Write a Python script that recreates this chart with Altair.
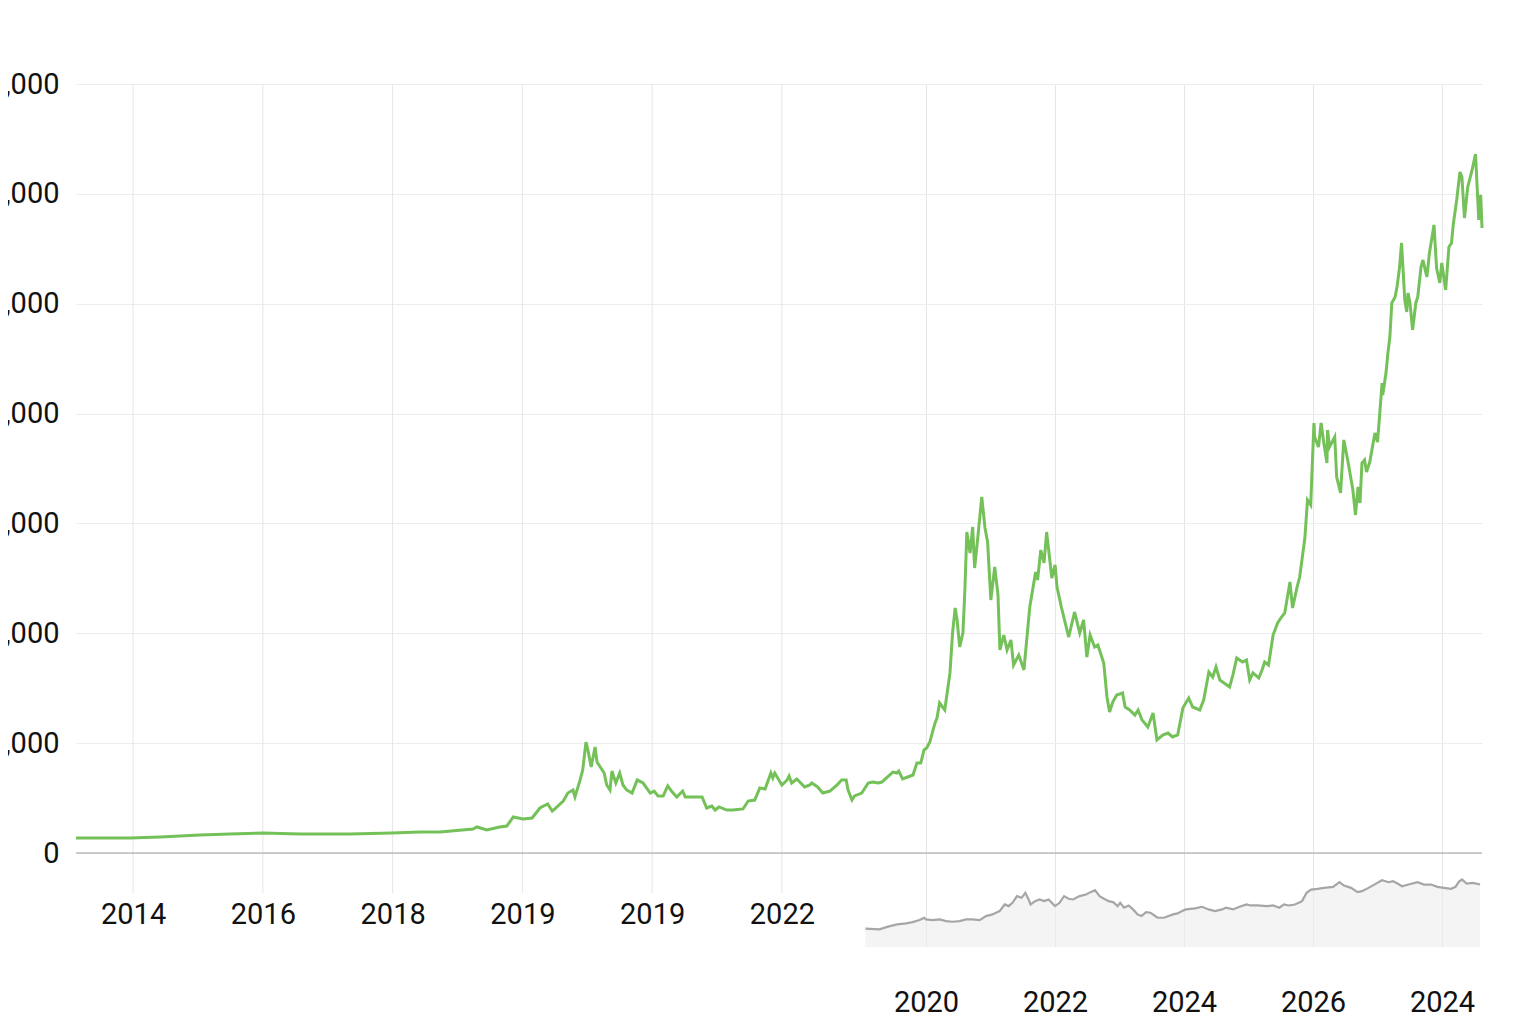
import altair as alt
import pandas as pd

# ---------------- data ----------------
MAIN_T = [2013.12, 2013.49, 2013.95, 2014.42, 2015.03, 2015.49, 2016.00, 2016.57, 2017.34, 2017.99,
          2018.42, 2018.73, 2019.24, 2019.30, 2019.45, 2019.65, 2019.76, 2019.86, 2020.01, 2020.15,
          2020.27, 2020.39, 2020.46, 2020.50, 2020.63, 2020.70, 2020.78, 2020.81, 2020.89, 2020.93,
          2020.98, 2021.01, 2021.06, 2021.12, 2021.15, 2021.20, 2021.26, 2021.30, 2021.35, 2021.38,
          2021.44, 2021.50, 2021.55, 2021.61, 2021.69, 2021.77, 2021.86, 2021.97, 2022.03, 2022.09,
          2022.17, 2022.24, 2022.31, 2022.38, 2022.47, 2022.51, 2022.63, 2022.77, 2022.84, 2022.92,
          2022.97, 2023.03, 2023.15, 2023.24, 2023.40, 2023.48, 2023.58, 2023.66, 2023.74, 2023.83,
          2023.86, 2023.89, 2024.00, 2024.08, 2024.11, 2024.15, 2024.23, 2024.35, 2024.43, 2024.46,
          2024.55, 2024.63, 2024.74, 2024.85, 2024.92, 2024.99, 2025.02, 2025.08, 2025.12, 2025.23,
          2025.33, 2025.40, 2025.48, 2025.54, 2025.71, 2025.77, 2025.80, 2025.86, 2025.94, 2026.02,
          2026.08, 2026.14, 2026.19, 2026.23, 2026.28, 2026.33, 2026.36, 2026.39, 2026.43, 2026.51,
          2026.59, 2026.63, 2026.67, 2026.70, 2026.74, 2026.79, 2026.82, 2026.85, 2026.90, 2026.94,
          2026.97, 2027.02, 2027.08, 2027.13, 2027.17, 2027.22, 2027.28, 2027.33, 2027.36, 2027.42,
          2027.47, 2027.53, 2027.57, 2027.65, 2027.73, 2027.82, 2027.91, 2027.94, 2027.99, 2028.04,
          2028.08, 2028.16, 2028.21, 2028.24, 2028.31, 2028.42, 2028.51, 2028.59, 2028.65, 2028.70,
          2028.75, 2028.82, 2028.87, 2028.96, 2029.01, 2029.05, 2029.10, 2029.16, 2029.25, 2029.29,
          2029.36, 2029.44, 2029.49, 2029.55, 2029.64, 2029.72, 2029.78, 2029.87, 2029.95, 2030.02,
          2030.10, 2030.18, 2030.27, 2030.33, 2030.44, 2030.50, 2030.58, 2030.64, 2030.69, 2030.75,
          2030.90, 2030.95, 2031.01, 2031.10, 2031.16, 2031.21, 2031.26, 2031.35, 2031.40, 2031.44,
          2031.50, 2031.57, 2031.64, 2031.70, 2031.75, 2031.83, 2031.87, 2031.94, 2031.98, 2032.06,
          2032.10, 2032.15, 2032.20, 2032.21, 2032.27, 2032.31, 2032.35, 2032.40, 2032.41, 2032.44,
          2032.52, 2032.55, 2032.61, 2032.66, 2032.72, 2032.80, 2032.84, 2032.88, 2032.91, 2032.94,
          2032.98, 2033.01, 2033.06, 2033.14, 2033.18, 2033.25, 2033.26, 2033.31, 2033.34, 2033.37,
          2033.40, 2033.45, 2033.48, 2033.52, 2033.55, 2033.60, 2033.63, 2033.65, 2033.68, 2033.72,
          2033.77, 2033.80, 2033.85, 2033.88, 2033.94, 2033.98, 2034.05, 2034.09, 2034.14, 2034.17,
          2034.23, 2034.28, 2034.32, 2034.35, 2034.40, 2034.45, 2034.48, 2034.52, 2034.57, 2034.63,
          2034.69, 2034.74, 2034.77, 2034.79]
MAIN_V = [1370, 1370, 1370, 1460, 1640, 1730, 1820, 1730, 1730, 1820,
          1910, 1910, 2180, 2370, 2090, 2370, 2460, 3280, 3100, 3190,
          4100, 4460, 3820, 4010, 4730, 5460, 5730, 5100, 6650, 7560,
          10100, 9380, 7830, 9650, 8280, 7830, 7280, 6190, 5730, 7460,
          6370, 7280, 6190, 5730, 5460, 6650, 6370, 5460, 5640, 5190,
          5190, 6100, 5550, 5100, 5640, 5100, 5100, 5100, 4100, 4280,
          3910, 4190, 3910, 3910, 4010, 4730, 4820, 5920, 5830, 7280,
          6830, 7280, 6190, 6650, 7010, 6370, 6740, 6010, 6190, 6370,
          6010, 5460, 5640, 6190, 6650, 6650, 5730, 4820, 5190, 5460,
          6370, 6460, 6370, 6460, 7370, 7280, 7460, 6740, 6920, 7100,
          8190, 8190, 9380, 9560, 10100, 11200, 11830, 12290, 13650, 13020,
          16390, 20030, 22300, 21210, 18750, 20030, 23940, 29220, 27310, 29680,
          25940, 28770, 32410, 29590, 28310, 23030, 26040, 23490, 18480, 19840,
          18480, 19390, 17110, 18020, 16660, 22390, 25580, 24850, 27580, 26400,
          29220, 25030, 26220, 24210, 22300, 19660, 21940, 20030, 21210, 17840,
          19840, 18750, 18930, 17300, 14200, 12840, 13750, 14380, 14560, 13290,
          13020, 12560, 13020, 12110, 11470, 12740, 10290, 10740, 10920, 10560,
          10740, 13200, 14110, 13290, 13020, 13930, 16480, 16020, 16930, 15750,
          15110, 16200, 17750, 17390, 17570, 15750, 16390, 15930, 16660, 17390,
          17110, 19840, 20940, 21480, 21850, 24670, 22300, 24210, 25120, 28670,
          32130, 31680, 39140, 37870, 36960, 39140, 37410, 35500, 38510, 36960,
          37870, 34230, 32770, 37600, 35780, 33040, 30770, 33320, 31860, 35500,
          35780, 34680, 35590, 38230, 37410, 42780, 41690, 43690, 45520, 46970,
          50070, 50610, 51520, 53340, 55530, 50340, 49250, 50980, 50070, 47610,
          50070, 50610, 53340, 53980, 52430, 54620, 57170, 53250, 51890, 53710,
          51250, 55160, 55530, 57350, 59440, 61990, 61540, 57800, 60630, 61990,
          63630, 57620, 59900, 56890]

INSET_T = [2019.06, 2019.28, 2019.41, 2019.55, 2019.69, 2019.79, 2019.90, 2019.97, 2020.00, 2020.10,
           2020.21, 2020.31, 2020.41, 2020.52, 2020.62, 2020.72, 2020.83, 2020.93, 2021.03, 2021.14,
           2021.22, 2021.28, 2021.34, 2021.41, 2021.48, 2021.54, 2021.59, 2021.62, 2021.69, 2021.76,
           2021.83, 2021.90, 2022.00, 2022.07, 2022.14, 2022.21, 2022.28, 2022.38, 2022.48, 2022.55,
           2022.62, 2022.69, 2022.76, 2022.83, 2022.90, 2022.97, 2023.01, 2023.07, 2023.14, 2023.21,
           2023.28, 2023.34, 2023.41, 2023.48, 2023.59, 2023.69, 2023.76, 2023.83, 2023.90, 2023.97,
           2024.03, 2024.17, 2024.28, 2024.38, 2024.48, 2024.59, 2024.65, 2024.76, 2024.86, 2024.97,
           2025.03, 2025.14, 2025.28, 2025.38, 2025.48, 2025.55, 2025.62, 2025.72, 2025.83, 2025.90,
           2025.97, 2026.07, 2026.17, 2026.31, 2026.41, 2026.48, 2026.59, 2026.69, 2026.76, 2026.86,
           2026.97, 2027.07, 2027.17, 2027.24, 2027.31, 2027.38, 2027.48, 2027.62, 2027.72, 2027.83,
           2027.93, 2028.03, 2028.14, 2028.21, 2028.26, 2028.31, 2028.38, 2028.48, 2028.59]
INSET_V = [27.5, 26.5, 30.5, 34.0, 35.4, 37.4, 40.4, 43.9, 41.4, 40.4,
           41.4, 38.9, 37.9, 38.9, 41.4, 41.4, 40.4, 46.4, 48.9, 53.9,
           63.8, 61.3, 66.3, 76.3, 73.8, 81.3, 71.3, 63.8, 68.8, 71.3,
           68.8, 71.3, 61.3, 66.3, 76.3, 72.3, 71.3, 76.3, 78.8, 82.3,
           85.2, 76.3, 72.3, 68.8, 67.3, 61.3, 66.3, 58.9, 62.3, 56.4,
           48.9, 46.4, 52.4, 51.4, 43.9, 43.9, 46.4, 48.9, 50.4, 53.9,
           56.4, 57.9, 60.3, 56.4, 53.9, 56.4, 58.9, 56.4, 60.3, 63.8,
           62.3, 62.3, 61.3, 62.3, 58.9, 63.8, 62.3, 63.8, 68.8, 81.3,
           86.2, 87.2, 88.7, 90.2, 97.2, 92.2, 88.7, 82.3, 83.8, 88.7,
           94.7, 100.2, 97.2, 98.7, 95.2, 91.2, 93.7, 97.2, 93.7, 93.7,
           90.2, 88.7, 87.2, 90.2, 97.7, 101.2, 95.2, 96.2, 93.7]

Y_TICKS = [0, 10000, 20000, 30000, 40000, 50000, 60000, 70000]
MAIN_TICKS = [2014, 2016, 2018, 2020, 2022, 2024]
MAIN_TICK_LABELS = ["2014", "2016", "2018", "2019", "2019", "2022"]
INSET_TICKS = [2020, 2022, 2024, 2026, 2028]
INSET_TICK_LABELS = ["2020", "2022", "2024", "2026", "2024"]
GRID_LOW = -3641
GRID_HIGH = 70000
BASELINE = [0]

# ---------------- styling ----------------
FONT = "Roboto"
FS = 29
TEXT = "#111111"
GREEN = "#74c159"
W, H = 1406, 863

main_df = pd.DataFrame({"t": MAIN_T, "v": MAIN_V})
inset_df = pd.DataFrame({"t": INSET_T, "v": INSET_V})
vgrid_df = pd.DataFrame({"t": MAIN_TICKS, "lo": [GRID_LOW] * len(MAIN_TICKS),
                         "hi": [GRID_HIGH] * len(MAIN_TICKS)})
base_df = pd.DataFrame({"v": BASELINE})


def label_expr(ticks, labels):
    arr = "[" + ",".join("'" + s + "'" for s in labels) + "]"
    vals = "[" + ",".join(str(t) for t in ticks) + "]"
    return arr + "[indexof(" + vals + ", datum.value)]"


main_x_scale = alt.Scale(domain=[2013.12, 2034.79], nice=False, zero=False)
main_y_scale = alt.Scale(domain=[-8556, 70000], nice=False, zero=False)
inset_x_scale = alt.Scale(domain=[2006.82, 2028.62], nice=False, zero=False)
inset_y_scale = alt.Scale(domain=[0, 1294.5], nice=False, zero=False)

main_x_axis = alt.Axis(values=MAIN_TICKS, labelExpr=label_expr(MAIN_TICKS, MAIN_TICK_LABELS),
                       grid=False, domain=False, ticks=False, tickSize=0, labelPadding=-47,
                       labelFont=FONT, labelFontSize=FS, labelColor=TEXT, title=None,
                       orient="bottom", labelFlush=False, labelOverlap=False)
main_y_axis = alt.Axis(values=Y_TICKS, format=",.0f", grid=True, gridColor="#ededed", gridWidth=1,
                       domain=False, ticks=False, tickSize=0, labelPadding=17,
                       labelFont=FONT, labelFontSize=FS, labelColor=TEXT, title=None,
                       orient="left", labelFlush=False, labelOverlap=False)
inset_x_axis = alt.Axis(values=INSET_TICKS, labelExpr=label_expr(INSET_TICKS, INSET_TICK_LABELS),
                        grid=True, gridColor="#e6e6e6", gridWidth=1, domain=False, ticks=False,
                        tickSize=0, labelPadding=41, labelFont=FONT, labelFontSize=FS,
                        labelColor=TEXT, title=None, orient="bottom", labelFlush=False,
                        labelOverlap=False)

x_main = alt.X("t:Q", scale=main_x_scale, axis=main_x_axis)
y_main = alt.Y("v:Q", scale=main_y_scale, axis=main_y_axis)

vgrid = alt.Chart(vgrid_df).mark_rule(color="#e6e6e6", strokeWidth=1).encode(
    x=x_main,
    y=alt.Y("lo:Q", scale=main_y_scale, axis=main_y_axis),
    y2="hi:Q",
)
baseline = alt.Chart(base_df).mark_rule(color="#a0a0a0", strokeWidth=1.2).encode(y=y_main)
main_line = alt.Chart(main_df).mark_line(color=GREEN, strokeWidth=3).encode(x=x_main, y=y_main)

main_layer = alt.layer(vgrid, baseline, main_line)

x_inset = alt.X("t:Q", scale=inset_x_scale, axis=inset_x_axis)
y_inset = alt.Y("v:Q", scale=inset_y_scale, axis=None)

inset_area = alt.Chart(inset_df).mark_area(color="#ececec", opacity=0.6).encode(x=x_inset, y=y_inset)
inset_line = alt.Chart(inset_df).mark_line(color="#a6a6a6", strokeWidth=2.2).encode(x=x_inset, y=y_inset)

inset_layer = alt.layer(inset_area, inset_line)

chart = (
    alt.layer(main_layer, inset_layer)
    .resolve_scale(x="independent", y="independent")
    .resolve_axis(x="independent", y="independent")
    .properties(
        width=W,
        height=H,
        autosize=alt.AutoSizeParams(type="none"),
        padding={"left": 68, "top": 76, "right": 46, "bottom": 76},
        background="white",
    )
    .configure_view(stroke=None)
)

chart.save("out.html", embed_options={"renderer": "svg", "actions": False})
